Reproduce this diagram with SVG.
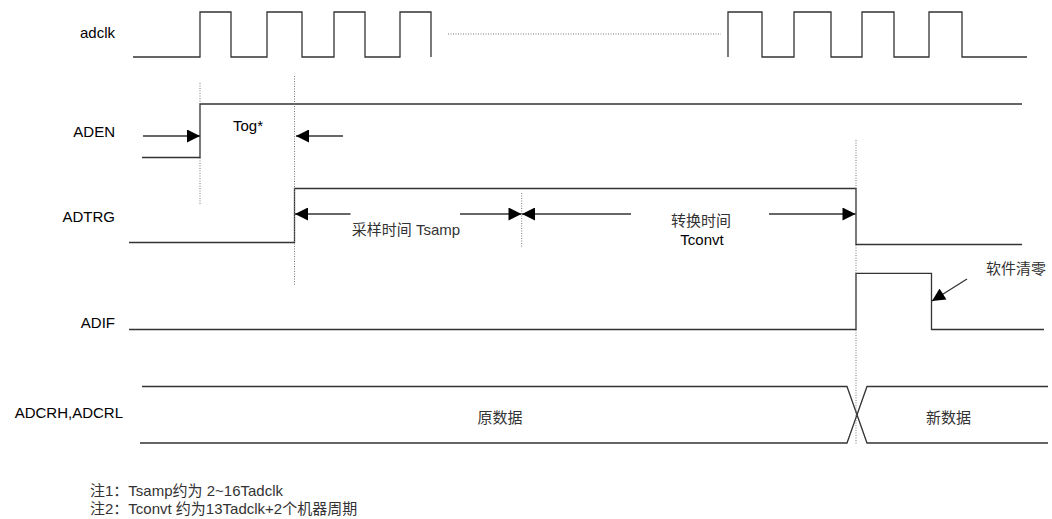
<svg xmlns="http://www.w3.org/2000/svg" width="1052" height="519" viewBox="0 0 1052 519">
<style>
.sig{fill:none;stroke:#333;stroke-width:1.3}
.dot{fill:none;stroke:#777;stroke-width:1;stroke-dasharray:1 1.5}
.arr{fill:none;stroke:#333;stroke-width:1.3}
.lbl{font-family:"Liberation Sans",Arial,sans-serif;font-size:15px;fill:#000}
.cjk{font-family:"Liberation Sans","Noto Sans CJK SC",sans-serif;font-size:15px;fill:#333}
</style>
<defs>
<marker id="ah" viewBox="0 0 14 14" refX="14" refY="7" markerWidth="14" markerHeight="13" markerUnits="userSpaceOnUse" orient="auto">
<path d="M0,0 L14,7 L0,14 z" fill="#000"/>
</marker>
</defs>
<rect width="1052" height="519" fill="#fff"/>
<g id="adclk">
<text class="lbl" x="115" y="38" text-anchor="end">adclk</text>
<path class="sig" d="M133,57 H200 V12 H231 V57 H267 V12 H302 V57 H334 V12 H365 V57 H400 V12 H431 V57"/>
<path class="dot" d="M448,34 H721"/>
<path class="sig" d="M728,57 V12 H762 V57 H794 V12 H831 V57 H862 V12 H894 V57 H929 V12 H962 V57 H1027"/>
</g>
<g id="aden">
<text class="lbl" x="115" y="137" text-anchor="end">ADEN</text>
<path class="sig" d="M142,157.5 H200 V104 H1022"/>
<text class="lbl" x="248" y="131" text-anchor="middle">Tog*</text>
</g>
<g id="adtrg">
<text class="lbl" x="115" y="221.5" text-anchor="end">ADTRG</text>
<path class="sig" d="M129,242.5 H294.5 V188.5 H856 V244.5 H1022"/>
<text class="cjk" x="406" y="235" text-anchor="middle">采样时间 Tsamp</text>
<text class="cjk" x="701" y="225.5" text-anchor="middle">转换时间</text>
<text class="lbl" x="702" y="244.5" text-anchor="middle">Tconvt</text>
</g>
<g id="adif">
<text class="lbl" x="115" y="328" text-anchor="end">ADIF</text>
<path class="sig" d="M129,329.5 H856 V273.3 H931.5 V329.5 H1044"/>
<text class="cjk" x="1016" y="274" text-anchor="middle">软件清零</text>
</g>
<g id="adcrh">
<text class="lbl" x="123" y="418" text-anchor="end">ADCRH,ADCRL</text>
<path class="sig" d="M142,386.5 H847 L867,443 H1048"/>
<path class="sig" d="M140,443 H847 L867,386.5 H1048"/>
<text class="cjk" x="500" y="423" text-anchor="middle">原数据</text>
<text class="cjk" x="948.5" y="423" text-anchor="middle">新数据</text>
</g>
<g id="connectors">
<path class="dot" d="M200,83 V205"/>
<path class="dot" d="M294.5,76 V285"/>
<path class="dot" d="M521.7,193 V247"/>
<path class="dot" d="M856,140 V444"/>
<line class="arr" x1="143" y1="136" x2="200" y2="136" marker-end="url(#ah)"/>
<line class="arr" x1="343" y1="136" x2="296" y2="136" marker-end="url(#ah)"/>
<line class="arr" x1="350.5" y1="214" x2="295" y2="214" marker-end="url(#ah)"/>
<line class="arr" x1="460" y1="214" x2="521.5" y2="214" marker-end="url(#ah)"/>
<line class="arr" x1="631" y1="214" x2="522" y2="214" marker-end="url(#ah)"/>
<line class="arr" x1="769" y1="214" x2="855.5" y2="214" marker-end="url(#ah)"/>
<line class="arr" x1="967" y1="279" x2="932" y2="301" marker-end="url(#ah)"/>
</g>
<g id="notes">
<text class="cjk" x="90" y="496" fill="#000">注1：Tsamp约为 2~16Tadclk</text>
<text class="cjk" x="90" y="514" fill="#000">注2：Tconvt 约为13Tadclk+2个机器周期</text>
</g>
</svg>
